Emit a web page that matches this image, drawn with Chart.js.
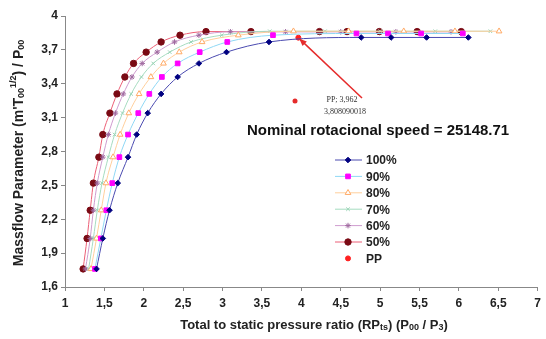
<!DOCTYPE html>
<html>
<head>
<meta charset="utf-8">
<script src="https://cdn.jsdelivr.net/npm/chart.js@4"></script>
<style>
  html, body { margin: 0; padding: 0; background: #fff; }
</style>
</head>
<body>
<canvas id="grafica" width="546" height="339"></canvas>
<script>
    // tick labels
    const xTicks = [1, 1.5, 2, 2.5, 3, 3.5, 4, 4.5, 5, 5.5, 6, 6.5, 7];
    const yTicks = [1.6, 1.9, 2.2, 2.5, 2.8, 3.1, 3.4, 3.7, 4];

    // series names
    const nombres = ["100%", "90%", "80%", "70%", "60%", "50%", "PP"];

    // mass flow parameter at the sampled points (shared by the speed lines)
    const filas = [1.76, 2.03, 2.28, 2.52, 2.75, 2.95, 3.14, 3.31, 3.46, 3.58, 3.68, 3.77, 3.83];

    // pressure ratio / mass flow for each speed line
    const x100 = [1.40, 1.48, 1.565, 1.67, 1.80, 1.91, 2.05, 2.22, 2.43, 2.70, 3.05, 3.59, 4.76, 5.14, 5.59, 6.12];
    const y100 = filas.slice(0, 12).concat([3.81, 3.81, 3.81, 3.81]);

    const x90 = [1.38, 1.455, 1.525, 1.60, 1.69, 1.80, 1.93, 2.07, 2.23, 2.43, 2.71, 3.06, 3.64, 4.70, 5.10, 5.52, 6.05];
    const y90 = filas.concat([3.845, 3.845, 3.845, 3.845]);

    const x80 = [1.33, 1.40, 1.46, 1.52, 1.61, 1.70, 1.81, 1.94, 2.09, 2.25, 2.45, 2.74, 3.20, 3.90, 4.60, 5.30, 5.95, 6.51];
    const y80 = filas.concat([3.865, 3.865, 3.865, 3.865, 3.865]);

    const x70 = [1.30, 1.36, 1.41, 1.47, 1.55, 1.63, 1.73, 1.84, 1.97, 2.12, 2.33, 2.60, 2.99, 3.60, 4.30, 5.00, 5.70, 6.40];
    const y70 = filas.concat([3.865, 3.865, 3.865, 3.865, 3.865]);

    const x60 = [1.26, 1.32, 1.36, 1.41, 1.48, 1.55, 1.64, 1.74, 1.85, 1.98, 2.17, 2.39, 2.70, 3.10, 3.80, 4.50, 5.20, 5.90];
    const y60 = filas.concat([3.86, 3.86, 3.86, 3.86, 3.86]);

    const x50 = [1.23, 1.28, 1.32, 1.36, 1.43, 1.48, 1.57, 1.66, 1.76, 1.87, 2.03, 2.22, 2.46, 2.79, 3.36, 4.23, 4.58, 4.99, 5.47, 6.03];
    const y50 = filas.concat([3.862, 3.862, 3.862, 3.862, 3.862, 3.862, 3.862]);

    // design point
    const xPP = [3.962];
    const yPP = [3.808090018];

    const velocidad = "Nominal rotacional speed = 25148.71";
    const FUENTE = '"Liberation Sans", Arial, sans-serif';

    function puntos(xs, ys) {
        return xs.map((x, i) => ({ x: x, y: ys[i] }));
    }

    function coma(v) {
        return String(v).replace('.', ',');
    }

    // text with sub/superscripts, centred on (cx, cy)
    function textoRico(ctx, partes, cx, cy, rot) {
        ctx.save();
        ctx.translate(cx, cy);
        if (rot) ctx.rotate(rot);
        let ancho = 0;
        partes.forEach(p => {
            ctx.font = 'bold ' + p.s + 'px ' + FUENTE;
            p.w = ctx.measureText(p.t).width;
            ancho += p.w;
        });
        let x = -ancho / 2;
        ctx.textBaseline = 'middle';
        ctx.textAlign = 'left';
        ctx.fillStyle = '#222';
        partes.forEach(p => {
            ctx.font = 'bold ' + p.s + 'px ' + FUENTE;
            ctx.fillText(p.t, x, p.dy || 0);
            x += p.w;
        });
        ctx.restore();
    }

    const extras = {
        id: 'extras',
        afterDraw(chart) {
            const ctx = chart.ctx;
            const sx = chart.scales.x, sy = chart.scales.y;

            // axis titles
            textoRico(ctx, [
                { t: "Massflow Parameter (m'T", s: 14 },
                { t: "00", s: 9, dy: 3 },
                { t: "1/2", s: 9, dy: -5 },
                { t: ") / P", s: 14 },
                { t: "00", s: 9, dy: 3 }
            ], 19, 153, -Math.PI / 2);

            textoRico(ctx, [
                { t: "Total to static pressure ratio (RP", s: 13 },
                { t: "ts", s: 9, dy: 3 },
                { t: ") (P", s: 13 },
                { t: "00", s: 9, dy: 3 },
                { t: " / P", s: 13 },
                { t: "3", s: 9, dy: 3 },
                { t: ")", s: 13 }
            ], 314, 325, 0);

            // nominal speed
            ctx.save();
            ctx.font = 'bold 15px ' + FUENTE;
            ctx.fillStyle = '#111';
            ctx.textBaseline = 'middle';
            ctx.fillText(velocidad, 247, 131);
            ctx.restore();

            // PP label with arrow
            const px = sx.getPixelForValue(xPP[0]);
            const py = sy.getPixelForValue(yPP[0]);
            ctx.save();
            ctx.strokeStyle = '#e52b2b';
            ctx.lineWidth = 1.5;
            ctx.beginPath();
            ctx.moveTo(362, 98);
            ctx.lineTo(px + 2, py + 2);
            ctx.stroke();
            const ang = Math.atan2(py - 98, px - 362);
            ctx.fillStyle = '#e52b2b';
            ctx.beginPath();
            ctx.moveTo(px + 1, py + 1);
            ctx.lineTo(px + 1 - 8 * Math.cos(ang - 0.4), py + 1 - 8 * Math.sin(ang - 0.4));
            ctx.lineTo(px + 1 - 8 * Math.cos(ang + 0.4), py + 1 - 8 * Math.sin(ang + 0.4));
            ctx.closePath();
            ctx.fill();

            ctx.fillStyle = '#e52b2b';
            ctx.beginPath();
            ctx.arc(295, 101, 2.5, 0, Math.PI * 2);
            ctx.fill();
            ctx.fillStyle = '#333';
            ctx.font = '8px "Liberation Serif", serif';
            ctx.textAlign = 'center';
            ctx.textBaseline = 'middle';
            ctx.fillText("PP; " + coma(xPP[0]), 342, 100);
            ctx.fillText(coma(yPP[0]), 345, 112);
            ctx.restore();

            // legend
            chart.data.datasets.forEach((ds, i) => {
                const y = 160 + i * 16.4;
                ctx.save();
                if (ds.showLine !== false) {
                    ctx.strokeStyle = ds.borderColor;
                    ctx.lineWidth = 1;
                    ctx.beginPath();
                    ctx.moveTo(335, y);
                    ctx.lineTo(362, y);
                    ctx.stroke();
                }
                ctx.fillStyle = ds.pointBackgroundColor;
                ctx.strokeStyle = ds.pointBorderColor;
                ctx.lineWidth = 1;
                Chart.helpers.drawPoint(ctx, {
                    pointStyle: ds.pointStyle,
                    radius: ds.pointRadius,
                    borderWidth: 1,
                    rotation: 0
                }, 348, y);
                ctx.fillStyle = '#222';
                ctx.font = 'bold 12px ' + FUENTE;
                ctx.textBaseline = 'middle';
                ctx.fillText(ds.label, 366, y + 1);
                ctx.restore();
            });
        }
    };

    function serie(nombre, xs, ys, linea, fondo, borde, estilo, radio) {
        return {
            label: nombre,
            data: puntos(xs, ys),
            showLine: true,
            borderColor: linea,
            borderWidth: 1,
            pointBackgroundColor: fondo,
            pointBorderColor: borde,
            pointBorderWidth: 1,
            pointStyle: estilo,
            pointRadius: radio,
            cubicInterpolationMode: 'monotone'
        };
    }

    let ctx = document.getElementById("grafica").getContext("2d");
    let miGrafica = new Chart(ctx, {
        type: "scatter",
        data: {
            datasets: [
                serie(nombres[0], x100, y100, '#4a4ab0', '#000080', '#000080', 'rectRot', 2.8),
                serie(nombres[1], x90, y90, '#8fd8f5', '#ff00ff', '#ff00ff', 'rect', 3.3),
                serie(nombres[2], x80, y80, '#ffcf9c', '#ffffff', '#ffaa66', 'triangle', 3.3),
                serie(nombres[3], x70, y70, '#a6dcc0', '#9ad4b6', '#9ad4b6', 'crossRot', 2.5),
                serie(nombres[4], x60, y60, '#cf9ccf', '#a06aa0', '#a06aa0', 'star', 2.8),
                serie(nombres[5], x50, y50, '#ec5f76', '#7a0a14', '#7a0a14', 'circle', 3.2),
                {
                    label: nombres[6],
                    data: puntos(xPP, yPP),
                    showLine: false,
                    borderColor: '#ff2020',
                    pointBackgroundColor: '#ff2020',
                    pointBorderColor: '#ff2020',
                    pointStyle: 'circle',
                    pointRadius: 2.5
                }
            ]
        },
        options: {
            responsive: false,
            animation: false,
            layout: { padding: { top: 16, right: 6, bottom: 0, left: 0 } },
            plugins: {
                legend: { display: false },
                tooltip: { enabled: false }
            },
            scales: {
                x: {
                    type: 'linear',
                    min: 1,
                    max: 7,
                    afterBuildTicks: s => { s.ticks = xTicks.map(v => ({ value: v })); },
                    afterFit: s => { s.height = 52; },
                    grid: { drawOnChartArea: false, color: '#888', tickLength: 4 },
                    border: { color: '#888', width: 1 },
                    ticks: {
                        color: '#222',
                        padding: 5,
                        maxRotation: 0,
                        font: { family: FUENTE, size: 12, weight: 'bold' },
                        callback: v => coma(v)
                    }
                },
                y: {
                    type: 'linear',
                    min: 1.6,
                    max: 4,
                    afterBuildTicks: s => { s.ticks = yTicks.map(v => ({ value: v })); },
                    afterFit: s => { s.width = 65; },
                    grid: { drawOnChartArea: false, color: '#888', tickLength: 4 },
                    border: { color: '#888', width: 1 },
                    ticks: {
                        color: '#222',
                        padding: 3,
                        font: { family: FUENTE, size: 12, weight: 'bold' },
                        callback: v => coma(v)
                    }
                }
            }
        },
        plugins: [extras]
    });
</script>
</body>
</html>
